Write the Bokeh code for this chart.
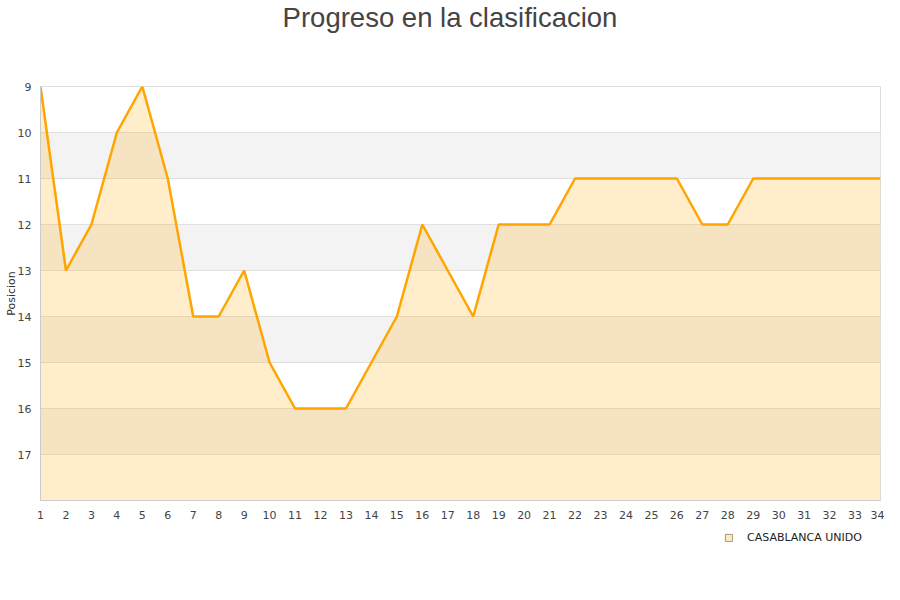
from bokeh.plotting import figure
from bokeh.models import Range1d, FixedTicker, Legend, LegendItem, Label
from bokeh.layouts import column
from bokeh.embed import file_html
from bokeh.resources import INLINE

jornadas = list(range(1, 35))
posiciones = [9, 13, 12, 10, 9, 11, 14, 14, 13, 15, 16, 16, 16, 15, 14, 12, 13, 14,
              12, 12, 12, 11, 11, 11, 11, 11, 12, 12, 11, 11, 11, 11, 11, 11]
equipo = "CASABLANCA UNIDO"
titulo = "Progreso en la clasificacion"
y_ticks = [9, 10, 11, 12, 13, 14, 15, 16, 17]
y_bottom = 18

W = 884
LEFT = 40
RIGHT = 4
TOP_H = 76
MAIN_H = 449
LEG_H = 59


def strip(h):
    # frame spans the same pixels as the main plot frame (column aligns borders)
    f = figure(width=W, height=h, output_backend="svg", toolbar_location=None,
               x_range=Range1d(LEFT, W - RIGHT), y_range=Range1d(0, h),
               min_border_left=LEFT, min_border_right=RIGHT, min_border_top=0, min_border_bottom=0)
    f.axis.visible = False
    f.grid.visible = False
    f.outline_line_color = None
    f.background_fill_color = "white"
    f.border_fill_color = "white"
    return f


# title strip
p_top = strip(TOP_H)
p_top.add_layout(Label(x=449.5, y=TOP_H - 16.5, text=titulo, text_font="Liberation Sans",
                       text_font_size="27.5px", text_color="#444444",
                       text_align="center", text_baseline="middle"))

# main chart
p = figure(width=W, height=MAIN_H, output_backend="svg", toolbar_location=None,
           x_range=Range1d(1, 34), y_range=Range1d(y_bottom, 9),
           min_border_left=LEFT, min_border_right=RIGHT, min_border_top=10, min_border_bottom=25)
p.outline_line_color = "#dddddd"
p.background_fill_color = "white"
p.border_fill_color = "white"

p.xgrid.grid_line_color = None
p.ygrid.grid_line_color = "#e0e0e0"
p.ygrid.band_fill_color = "#f3f3f3"
p.ygrid.band_fill_alpha = 1.0

p.yaxis.ticker = FixedTicker(ticks=y_ticks)
p.xaxis.ticker = FixedTicker(ticks=jornadas)
for ax in (p.xaxis, p.yaxis):
    ax.axis_line_color = "#cccccc"
    ax.major_tick_line_color = None
    ax.minor_tick_line_color = None
    ax.major_label_text_font = "DejaVu Sans"
    ax.major_label_text_font_size = "11px"
    ax.major_label_text_color = "#444444"
p.yaxis.major_label_standoff = 3
p.xaxis.major_label_standoff = 4

p.yaxis.axis_label = "Posicion"
p.yaxis.axis_label_text_font = "DejaVu Sans"
p.yaxis.axis_label_text_font_size = "11px"
p.yaxis.axis_label_text_font_style = "normal"
p.yaxis.axis_label_text_color = "#333333"
p.yaxis.axis_label_standoff = -3

p.varea(x=jornadas, y1=posiciones, y2=y_bottom, fill_color="#ffa500", fill_alpha=0.2)
p.line(x=jornadas, y=posiciones, line_color="#ffa500", line_width=2.5)

# legend strip
p_leg = strip(LEG_H)
dummy = p_leg.quad(left=[0], right=[5], top=[-10], bottom=[-20], fill_color="#fde8c6",
                   line_color="#a89878", line_width=1)
legend = Legend(items=[LegendItem(label=equipo, renderers=[dummy])],
                location=(684, 40), orientation="horizontal",
                glyph_width=9, glyph_height=9, label_text_font="DejaVu Sans",
                label_text_font_size="11px", label_text_color="#222222",
                border_line_color=None, background_fill_alpha=0,
                padding=0, margin=0, label_standoff=14)
p_leg.add_layout(legend, "center")

layout = column(p_top, p, p_leg, spacing=0)
open("out.html", "w").write(file_html(layout, INLINE))
